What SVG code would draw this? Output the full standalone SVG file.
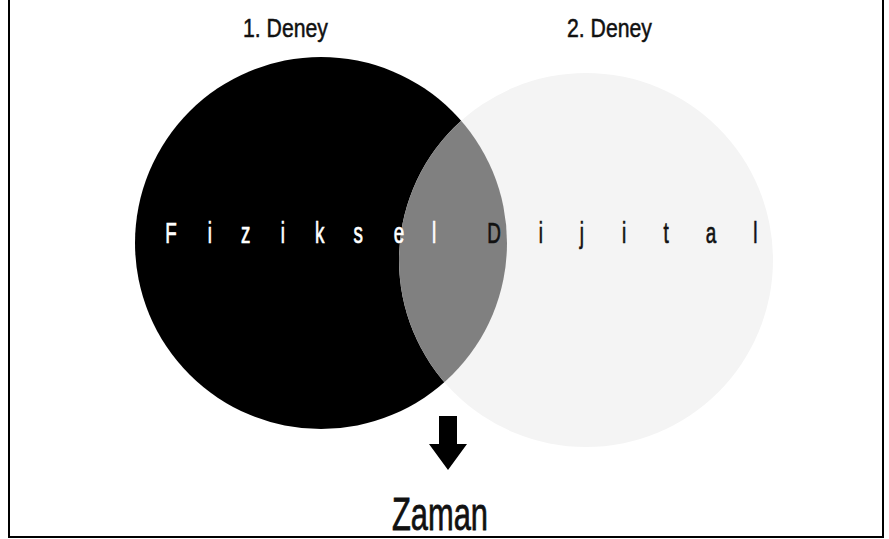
<svg xmlns="http://www.w3.org/2000/svg" width="889" height="539" viewBox="0 0 889 539">
<style>
.t{font-family:"Liberation Sans",Arial,sans-serif;stroke:#111;stroke-width:0.5px;}
.ltr{font-family:"Liberation Sans",Arial,sans-serif;font-size:29px;text-anchor:middle;stroke-width:0.7px;}
.w{fill:#ffffff;stroke:#ffffff;}
.k{fill:#111111;stroke:#111111;}
</style>
<defs>
<clipPath id="clipBlack"><circle cx="321" cy="243" r="186"/></clipPath>
</defs>
<rect x="0" y="0" width="889" height="539" fill="#ffffff"/>
<rect x="9" y="-3" width="874" height="540" fill="none" stroke="#000" stroke-width="2"/>
<g id="deney1">
<circle cx="321" cy="243" r="186" fill="#000000"/>
<text class="t" x="243" y="37" font-size="26" textLength="85" lengthAdjust="spacingAndGlyphs" fill="#111">1. Deney</text>
</g>
<g id="deney2">
<circle cx="586" cy="260" r="187" fill="#f4f4f4"/>
<text class="t" x="567" y="37" font-size="26" textLength="85" lengthAdjust="spacingAndGlyphs" fill="#111">2. Deney</text>
</g>
<g id="overlap">
<circle cx="586" cy="260" r="187" fill="#808080" clip-path="url(#clipBlack)"/>
</g>
<g id="labels" transform="scale(0.65 1)">
<text class="ltr w" x="263" y="243">F</text>
<text class="ltr w" x="323" y="243">i</text>
<text class="ltr w" x="378" y="243">z</text>
<text class="ltr w" x="435" y="243">i</text>
<text class="ltr w" x="492" y="243">k</text>
<text class="ltr w" x="551" y="243">s</text>
<text class="ltr w" x="614" y="243">e</text>
<text class="ltr w" x="668" y="243">l</text>
<text class="ltr k" x="760" y="243">D</text>
<text class="ltr k" x="832" y="243">i</text>
<text class="ltr k" x="895" y="243">j</text>
<text class="ltr k" x="960" y="243">i</text>
<text class="ltr k" x="1025" y="243">t</text>
<text class="ltr k" x="1094" y="243">a</text>
<text class="ltr k" x="1162" y="243">l</text>
</g>
<g id="connectors">
<polygon points="439,416 457,416 457,444 467,444 448,470 429,444 439,444" fill="#000"/>
</g>
<g id="zaman">
<text class="t" x="392" y="530" font-size="47" textLength="96" lengthAdjust="spacingAndGlyphs" fill="#111" style="stroke-width:0.8px">Zaman</text>
</g>
</svg>
